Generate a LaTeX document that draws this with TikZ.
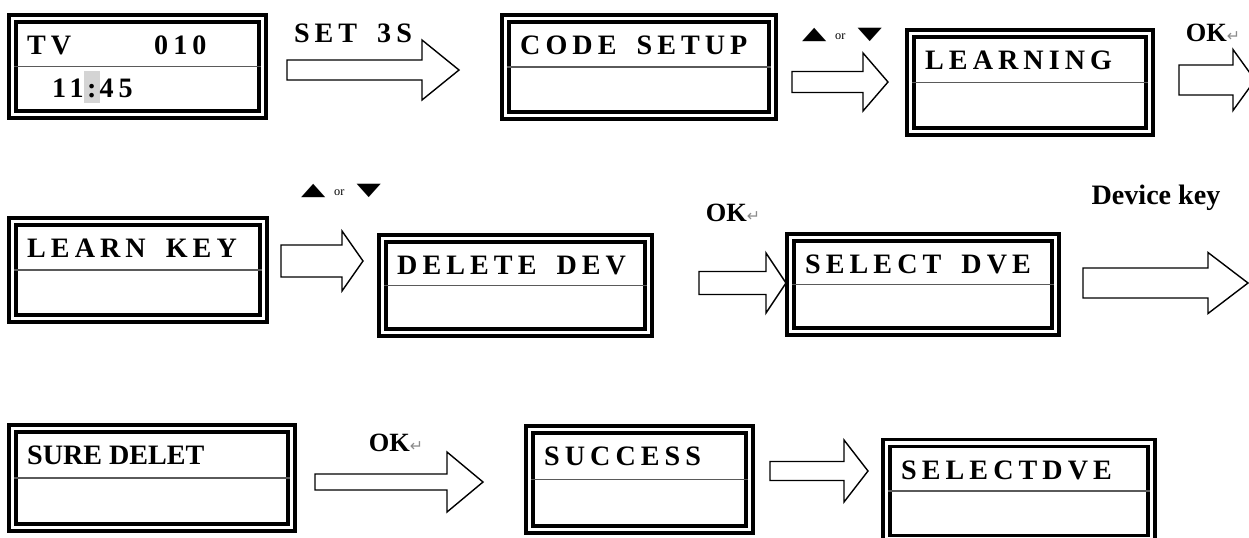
\documentclass[tikz,border=0pt]{standalone}
\usepackage{fontspec}
\setmainfont{Liberation Serif}
\newfontfamily\lcdfont[LetterSpace=18]{Liberation Serif}
\newfontfamily\symfont{DejaVu Sans}
\usetikzlibrary{calc,positioning}
\definecolor{lcdmark}{HTML}{D4D4D4}
\definecolor{divgray}{HTML}{5A5A5A}
\def\px{0.02cm}
% block arrow: tail, tip, head length, shaft half-height, head half-height
\newcommand\BlockArrow[5]{%
  \draw[blockarrow] ($(#1)+(0,-#4)$) -- ($(#2)+(-#3,-#4)$) -- ($(#2)+(-#3,-#5)$)
    -- (#2) -- ($(#2)+(-#3,#5)$) -- ($(#2)+(-#3,#4)$) -- ($(#1)+(0,#4)$) -- cycle;}
\newcommand\KeyUp{\scalebox{1.8}[1]{\symfont\fontsize{10}{12}\selectfont ▲}}
\newcommand\KeyDown{\scalebox{1.8}[1]{\symfont\fontsize{10}{12}\selectfont ▼}}
\newcommand\UpDown{\KeyUp\hspace{5pt}{\fontsize{7}{8}\selectfont or}\hspace{7pt}\KeyDown}
\newcommand\OkKey{\textbf{OK}{\symfont\fontsize{9}{10}\selectfont\textcolor{black!45}{↵}}}
\newcommand\lcdmark[1]{{\setlength\fboxsep{0pt}\colorbox{lcdmark}{\rule[-3pt]{0pt}{18.5pt}\makebox[9pt]{#1}}}}
\newcommand\wgap{\hspace{4.5pt}}

\begin{document}
\begin{tikzpicture}[
  x=\px, y=-\px, line join=miter,
  lcd/.style 2 args={draw, double, line width=1.9pt, double distance=2pt,
    minimum width=#1*\px, minimum height=#2*\px, inner sep=0pt},
  lcdtext/.style={font=\lcdfont\bfseries\fontsize{16}{19}\selectfont,
    inner sep=0pt, anchor=base west},
  divider/.style={divgray, line width=1pt, shorten <=2pt, shorten >=2pt},
  blockarrow/.style={draw, line width=0.8pt, fill=white},
  keylabel/.style={font=\fontsize{15}{18}\selectfont, inner sep=0pt}
]
\useasboundingbox (0,0) rectangle (1249,538);
\clip (0,0) rectangle (1249,538);

% --- LCD panels -------------------------------------------------------
\foreach \name/\cx/\cy/\w/\h in {
    tv/137.5/66.5/250/96, codesetup/639/67/267/97, learning/1030/82.5/239/98,
    learnkey/138/270/251/97, deletedev/515.5/285.5/266/94, selectdve/923/284.5/265/94,
    suredelet/152/478/279/99, success/639.5/479.5/220/100, selectdvetwo/1019/491/265/96}{
  \node[lcd={\w}{\h}] (\name) at (\cx,\cy) {};
  \draw[divider] (\name.west) -- (\name.east);
}

% --- Panel texts -------------------------------------------------------
\node[lcdtext] (tvmode)  at ($(tv.north west)+(16,38)$)  {TV};
\node[lcdtext] (tvchan)  at ($(tv.north west)+(143,38)$) {010};
\node[lcdtext] (tvclock) at ($(tv.north west)+(41,81)$)  {11\lcdmark{:}45};
\node[lcdtext] (codesetup-txt) at ($(codesetup.north west)+(16,38)$) {CODE \wgap SETUP};
\node[lcdtext] (learning-txt)  at ($(learning.north west)+(16,38)$)  {LEARNING};
\node[lcdtext] (learnkey-txt)  at ($(learnkey.north west)+(16,38)$)  {LEARN \wgap KEY};
\node[lcdtext] (deletedev-txt) at ($(deletedev.north west)+(16,38)$) {DELETE \wgap DEV};
\node[lcdtext] (selectdve-txt) at ($(selectdve.north west)+(16,38)$) {SELECT \wgap DVE};
\node[lcdtext, font=\bfseries\fontsize{16}{19}\selectfont]
  (suredelet-txt) at ($(suredelet.north west)+(16,38)$) {SURE DELET};
\node[lcdtext] (success-txt)   at ($(success.north west)+(16,38)$)   {SUCCESS};
\node[lcdtext] (selectdvetwo-txt) at ($(selectdvetwo.north west)+(16,38)$) {SELECTDVE};

% --- Block arrows: tail x / y / tip x / head length / shaft / head -----
\foreach \i/\tx/\ty/\hx/\hl/\sh/\hh in {
    1/287/70/459/37/10/30, 2/792/82/888/25/10.5/29, 3/1179/80/1255/22/15/30.5,
    4/281/261/363/21/16/30, 5/699/283/786/20/11.5/30, 6/1083/283/1248/40/15/30.5,
    7/315/482/483/36/8/30, 8/770/471/868/24/9.5/31}{
  \coordinate (arr\i-tail) at (\tx,\ty);
  \coordinate (arr\i-tip)  at (\hx,\ty);
  \BlockArrow{arr\i-tail}{arr\i-tip}{\hl}{\sh}{\hh}
}

% --- Key labels --------------------------------------------------------
\node[lcdtext, anchor=center] (setlbl) at (353,33) {SET \wgap 3S};
\node[inner sep=0pt] (updown1) at (842,35) {\UpDown};
\node[keylabel] (ok1) at (1213,33) {\OkKey};
\node[inner sep=0pt] (updown2) at (341,191) {\UpDown};
\node[keylabel] (ok2) at (733,213) {\OkKey};
\node[inner sep=0pt, font=\bfseries\fontsize{16}{19}\selectfont] (devkey) at (1156,198) {Device key};
\node[keylabel] (ok3) at (396,443) {\OkKey};

\end{tikzpicture}
\end{document}
